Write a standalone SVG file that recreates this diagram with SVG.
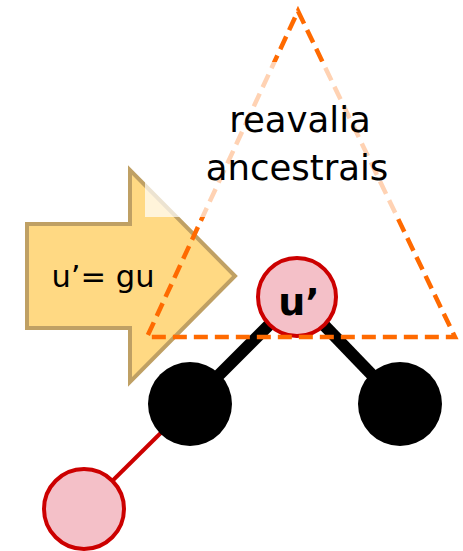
<svg xmlns="http://www.w3.org/2000/svg" width="463" height="551" viewBox="0 0 463 551">
<style>
.edge-b{stroke:#000;stroke-width:12;}
.edge-r{stroke:#CC0000;stroke-width:4;}
.pink{fill:#F4C0C8;stroke:#CC0000;stroke-width:4;}
.black{fill:#000;}
.lbl{font-family:"DejaVu Sans",Verdana,sans-serif;fill:#000;}
</style>
<rect width="463" height="551" fill="#fff"/>
<g id="connectors">
<line class="edge-b" x1="297" y1="297" x2="190" y2="404"/>
<line class="edge-b" x1="297" y1="297" x2="400" y2="404"/>
<line class="edge-r" x1="190" y1="404" x2="84" y2="509"/>
</g>
<g id="node-left"><circle class="black" cx="190" cy="404" r="42"/></g>
<g id="node-right"><circle class="black" cx="400" cy="404" r="42"/></g>
<g id="node-bottom"><circle class="pink" cx="84" cy="509" r="40"/></g>
<g id="node-u"><circle class="pink" cx="297" cy="297" r="39"/>
<text class="lbl" x="299" y="315" font-size="38" font-weight="bold" text-anchor="middle">u’</text></g>
<g id="arrow">
<polygon points="27,224 130,224 130,170 235,276 130,382 130,328 27,328" fill="#FFD983" stroke="#BFA064" stroke-width="4" stroke-linejoin="miter"/>
<text class="lbl" x="103" y="287" font-size="30.5" text-anchor="middle">u’= gu</text>
</g>
<g id="triangle">
<polygon points="298,11 455,337 147,337" fill="none" stroke="#FF6A00" stroke-width="4.5" stroke-dasharray="14 7"/>
<rect x="145" y="62" width="265" height="155" fill="#fff" fill-opacity="0.7"/>
<text class="lbl" font-size="35.5" text-anchor="middle"><tspan x="300" y="132">reavalia</tspan><tspan x="297" y="180">ancestrais</tspan></text>
</g>
</svg>
